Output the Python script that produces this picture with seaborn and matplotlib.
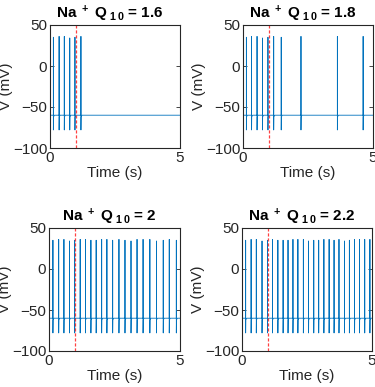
import numpy as np
import pandas as pd
import matplotlib
matplotlib.use("Agg")
import matplotlib.pyplot as plt
import seaborn as sns

# ---- data ----
q10_values = ["1.6", "1.8", "2", "2.2"]

spikes_16 = [0.13, 0.35, 0.55, 0.76, 0.96, 1.19]
peaks_16 = [35, 36, 36, 34, 35, 36]

spikes_18 = [0.13, 0.33, 0.54, 0.75, 0.96, 1.18, 1.47, 2.23, 3.63, 4.62]
peaks_18 = [35, 36, 36, 34, 35, 36, 35, 36, 36, 36]

spikes_20 = [0.15, 0.37, 0.57, 0.78, 0.98, 1.19, 1.39, 1.60, 1.80, 2.01, 2.21,
             2.43, 2.67, 2.90, 3.13, 3.36, 3.59, 3.85, 4.10, 4.36, 4.59, 4.86]
peaks_20 = [35, 36, 36, 34, 35, 36, 36, 35, 35, 36, 36,
            35, 36, 35, 34, 36, 36, 36, 34, 35, 36, 35]

spikes_22 = [0.14, 0.35, 0.55, 0.77, 0.98, 1.17, 1.38, 1.58, 1.77, 1.96, 2.15,
             2.36, 2.56, 2.76, 2.95, 3.15, 3.35, 3.54, 3.73, 3.94, 4.13, 4.33,
             4.52, 4.72, 4.92]
peaks_22 = [35, 36, 36, 34, 35, 36, 35, 35, 35, 36, 36,
            36, 34, 35, 35, 36, 36, 35, 36, 34, 35, 36,
            36, 36, 36]

rest_v = -60
trough_v = -78
t_end = 5.0
stim_time = 1.0

panels = [(spikes_16, peaks_16), (spikes_18, peaks_18),
          (spikes_20, peaks_20), (spikes_22, peaks_22)]


def build_trace(times, peaks):
    ts, vs = [0.0], [rest_v]
    for t, p in zip(times, peaks):
        ts += [t, t, t, t + 0.005, t + 0.04]
        vs += [rest_v, p, trough_v, rest_v - 2, rest_v]
    ts.append(t_end)
    vs.append(rest_v)
    return pd.DataFrame({"t": ts, "v": vs})


sns.set_theme(style="white")
plt.rcParams["font.family"] = ["Liberation Sans", "DejaVu Sans"]
plt.rcParams["mathtext.fontset"] = "custom"
plt.rcParams["mathtext.rm"] = "Liberation Sans:bold"
plt.rcParams["mathtext.bf"] = "Liberation Sans:bold"
plt.rcParams["mathtext.default"] = "bf"

fig = plt.figure(figsize=(3.75, 3.87), dpi=100)
W, H = 375, 387
boxes = [(50, 25, 130, 123), (243, 25, 130, 123),
         (49, 228, 131, 123), (242, 228, 130, 123)]

line_color = "#0072BD"
edge = "#262626"

for (times, peaks), q, (x0, y0, w, h) in zip(panels, q10_values, boxes):
    ax = fig.add_axes([x0 / W, 1 - (y0 + h) / H, w / W, h / H])
    df = build_trace(times, peaks)
    sns.lineplot(data=df, x="t", y="v", sort=False, estimator=None,
                 color=line_color, linewidth=0.6, ax=ax)
    ax.axvline(stim_time, color="#ff2020", linestyle="--", linewidth=0.9,
               dashes=(2.5, 1.5), alpha=0.85)
    ax.set_xlim(0, 5)
    ax.set_ylim(-100, 50)
    ax.set_xticks([0, 5])
    ax.set_yticks([-100, -50, 0, 50])
    ax.tick_params(direction="in", length=3, width=0.6, colors=edge,
                   labelsize=11, pad=2, top=True, right=True,
                   bottom=True, left=True, labelcolor="#262626")
    for s in ax.spines.values():
        s.set_visible(True)
        s.set_color(edge)
        s.set_linewidth(0.8)
    ax.set_xlabel("Time (s)", fontsize=11, color="#262626", labelpad=1)
    ax.set_ylabel("V (mV)", fontsize=11, color="#262626", labelpad=0)
    ax.set_title(r"Na$^{\ +}$ Q$_{\ 1\,0}$ = " + q, fontsize=11,
                 fontweight="bold", color="black", pad=5, x=0.46)

fig.savefig("out.png", dpi=100)
